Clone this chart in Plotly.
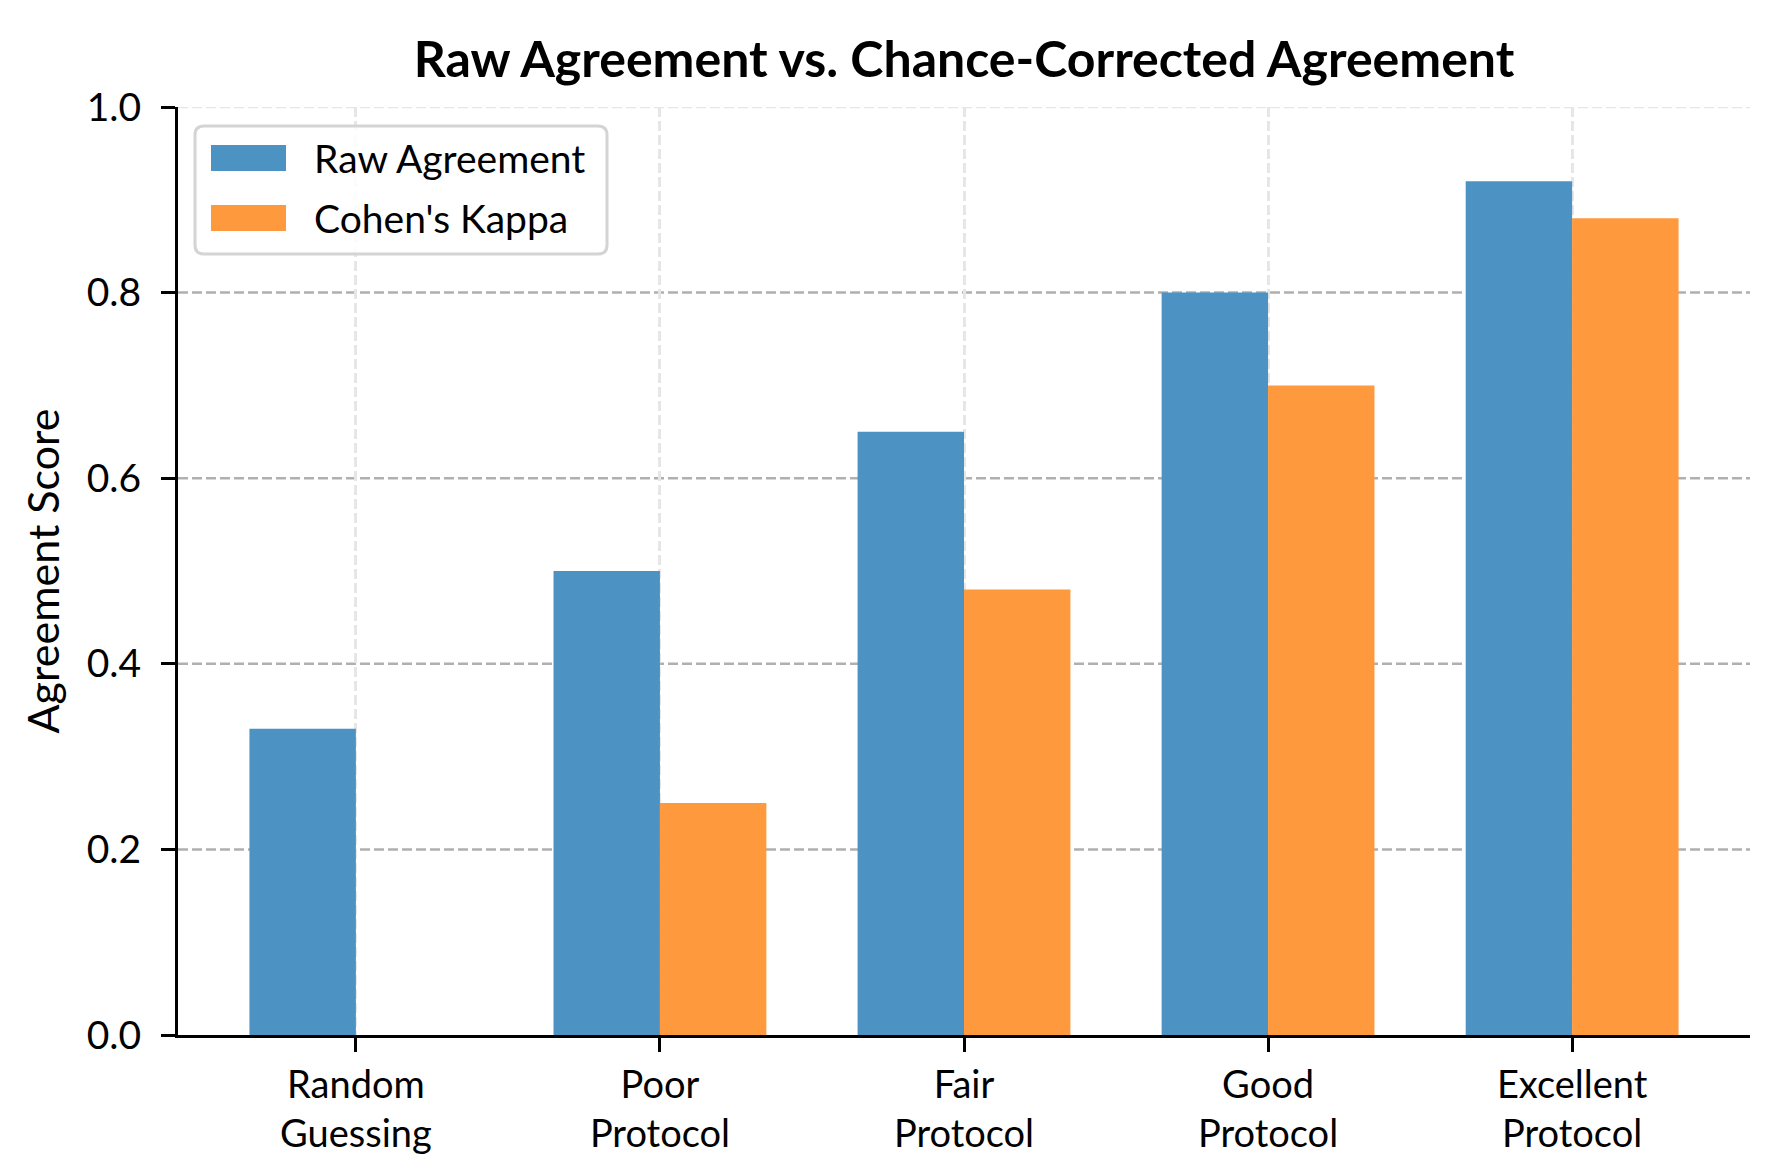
import plotly.graph_objects as go

# data
CATEGORIES = ["Random<br>Guessing", "Poor<br>Protocol", "Fair<br>Protocol",
              "Good<br>Protocol", "Excellent<br>Protocol"]
RAW_AGREEMENT = [0.33, 0.50, 0.65, 0.80, 0.92]
COHENS_KAPPA = [0.00, 0.25, 0.48, 0.70, 0.88]
Y_TICKS = [0.0, 0.2, 0.4, 0.6, 0.8, 1.0]

BLUE = "#4c92c3"
ORANGE = "#ff993e"
FONT = "Lato, Roboto, sans-serif"
BAR_W = 0.35

W, H = 1770, 1170
ML, MR, MT, MB = 170, 28, 99, 143
PW, PH = W - ML - MR, H - MT - MB

x = list(range(len(CATEGORIES)))

fig = go.Figure()
fig.add_trace(go.Bar(
    x=x, y=RAW_AGREEMENT, name="Raw Agreement",
    offset=-BAR_W, width=BAR_W, marker=dict(color=BLUE, line=dict(width=0)),
    showlegend=False,
))
fig.add_trace(go.Bar(
    x=x, y=COHENS_KAPPA, name="Cohen's Kappa",
    offset=0, width=BAR_W, marker=dict(color=ORANGE, line=dict(width=0)),
    showlegend=False,
))


def px_x(p):
    return p / PW


def px_y(p):
    return p / PH


# horizontal dashed grid (top line is clipped in the original, so it looks lighter)
shapes = []
for v in Y_TICKS[1:]:
    shapes.append(dict(
        type="line", xref="paper", yref="y", x0=0, x1=1, y0=v, y1=v,
        line=dict(color="#b0b0b0" if v < 1 else "#e6e6e6", width=2.5, dash="10px,4px"),
        layer="below",
    ))

# legend box drawn by hand (rounded frame, wide patches)
lx0, lx1 = px_x(187 - ML), px_x(599 - ML)
ly1, ly0 = 1 - px_y(118 - MT), 1 - px_y(246 - MT)
rx, ry = px_x(9), px_y(9)
path = (f"M{lx0 + rx},{ly0} L{lx1 - rx},{ly0} Q{lx1},{ly0} {lx1},{ly0 + ry} "
        f"L{lx1},{ly1 - ry} Q{lx1},{ly1} {lx1 - rx},{ly1} "
        f"L{lx0 + rx},{ly1} Q{lx0},{ly1} {lx0},{ly1 - ry} "
        f"L{lx0},{ly0 + ry} Q{lx0},{ly0} {lx0 + rx},{ly0} Z")
shapes.append(dict(type="path", xref="paper", yref="paper", path=path,
                   fillcolor="rgba(255,255,255,0.85)", line=dict(color="#d4d4d4", width=3),
                   layer="above"))

annotations = []
for i, (name, col) in enumerate([("Raw Agreement", BLUE), ("Cohen's Kappa", ORANGE)]):
    cy = 1 - px_y(150 + i * 60 - MT)
    shapes.append(dict(type="rect", xref="paper", yref="paper",
                       x0=px_x(203 - ML), x1=px_x(278 - ML),
                       y0=cy - px_y(13), y1=cy + px_y(13),
                       fillcolor=col, line=dict(width=0), layer="above"))
    annotations.append(dict(xref="paper", yref="paper", x=px_x(304 - ML), y=cy,
                            text=name, showarrow=False, xanchor="left", yanchor="middle",
                            font=dict(family=FONT, size=39, color="black")))

fig.update_layout(
    width=W, height=H,
    margin=dict(l=ML, r=MR, t=MT, b=MB),
    paper_bgcolor="white", plot_bgcolor="white",
    barmode="overlay",
    font=dict(family=FONT, size=39, color="black"),
    title=dict(text="<b>Raw Agreement vs. Chance-Corrected Agreement</b>",
               x=0.5, xref="paper", xanchor="center", y=1 - 51 / H, yanchor="middle",
               font=dict(family=FONT, size=50, color="black")),
    xaxis=dict(
        range=[-0.585, 4.585], tickmode="array", tickvals=x, ticktext=CATEGORIES,
        showgrid=True, gridcolor="#e6e6e6", gridwidth=2.5, griddash="10px,4px",
        showline=True, linecolor="black", linewidth=3,
        ticks="outside", ticklen=14, tickwidth=3, tickcolor="black",
        zeroline=False, tickfont=dict(size=38),
    ),
    yaxis=dict(
        range=[0, 1], tickmode="array", tickvals=Y_TICKS, tickformat=".1f",
        showgrid=False, showline=True, linecolor="black", linewidth=3,
        ticks="outside", ticklen=14, tickwidth=3, tickcolor="black",
        ticklabelstandoff=12,
        zeroline=False, tickfont=dict(size=39),
        title=dict(text="Agreement Score", font=dict(size=43), standoff=14),
    ),
    shapes=shapes,
    annotations=annotations,
)

fig.write_html("out.html")
